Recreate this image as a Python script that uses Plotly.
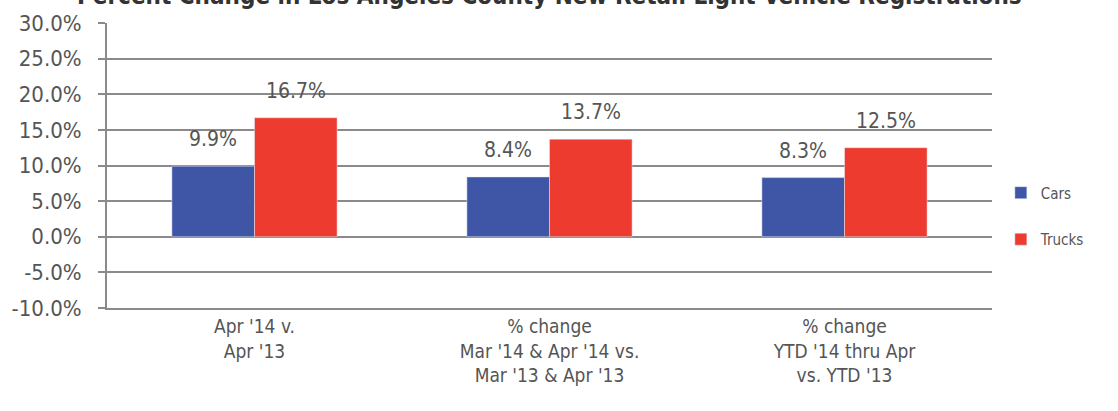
import plotly.graph_objects as go

categories = ["Apr '14 v.<br>Apr '13",
              "% change<br>Mar '14 & Apr '14 vs.<br>Mar '13 & Apr '13",
              "% change<br>YTD '14 thru Apr<br>vs. YTD '13"]
cars = [9.9, 8.4, 8.3]
trucks = [16.7, 13.7, 12.5]
y_ticks = [-10, -5, 0, 5, 10, 15, 20, 25, 30]
title_text = "Percent Change in Los Angeles County New Retail Light Vehicle Registrations"

FONT = "DejaVu Sans Condensed, Liberation Sans Narrow, Arial Narrow, sans-serif"
GRID = "#8a8a8a"
TXT = "#555555"
BARGAP = 0.44
half_bar = (1 - BARGAP) / 4

fig = go.Figure()
fig.add_trace(go.Bar(name="Cars", x=categories, y=cars, marker_color="#3F55A6",
                     legendgroup="c", offsetgroup="c"))
fig.add_trace(go.Bar(name="Trucks", x=categories, y=trucks, marker_color="#EE3B30",
                     legendgroup="t", offsetgroup="t"))

# data labels (offset above the bars like the reference)
for xi, (c, t) in enumerate(zip(cars, trucks)):
    for val, shift in ((c, -half_bar), (t, half_bar)):
        fig.add_annotation(x=xi + shift, y=val, xref="x", yref="y",
                           text=f"{val:.1f}%", showarrow=False,
                           yanchor="bottom", yshift=13,
                           font=dict(size=21, color=TXT, family=FONT))

fig.add_annotation(x=0.5, y=1, xref="paper", yref="paper", xanchor="center",
                   yanchor="bottom", yshift=11, showarrow=False,
                   text=f"<b>{title_text}</b>",
                   font=dict(size=24, color="#333333", family=FONT))

fig.update_layout(
    width=1118, height=411,
    margin=dict(l=107, r=126, t=23, b=103, autoexpand=False),
    paper_bgcolor="white", plot_bgcolor="white",
    barmode="group", bargap=BARGAP, bargroupgap=0,
    font=dict(family=FONT, color=TXT),
    legend=dict(x=1.01, y=0.323, xanchor="left", yanchor="middle",
                font=dict(size=15, color=TXT, family=FONT),
                itemwidth=30, tracegroupgap=24),
    showlegend=True,
)
fig.update_yaxes(range=[-10, 30], tickvals=y_ticks,
                 ticktext=[f"{v:.1f}%" for v in y_ticks],
                 showgrid=True, gridcolor=GRID, gridwidth=2,
                 zeroline=True, zerolinecolor=GRID, zerolinewidth=2,
                 showline=True, linecolor=GRID, linewidth=2,
                 ticks="outside", ticklen=7, tickcolor=GRID, tickwidth=2,
                 ticklabelstandoff=12,
                 automargin=False,
                 tickfont=dict(size=22, color=TXT, family=FONT))
fig.update_xaxes(showline=True, linecolor=GRID, linewidth=2, ticks="",
                 automargin=False,
                 tickfont=dict(size=19, color=TXT, family=FONT))

fig.write_html("out.html",
               config={"displayModeBar": False},
               post_script=("document.body.style.margin='0';"
                            "document.body.style.overflow='hidden';"
                            "document.documentElement.style.overflow='hidden';"))
